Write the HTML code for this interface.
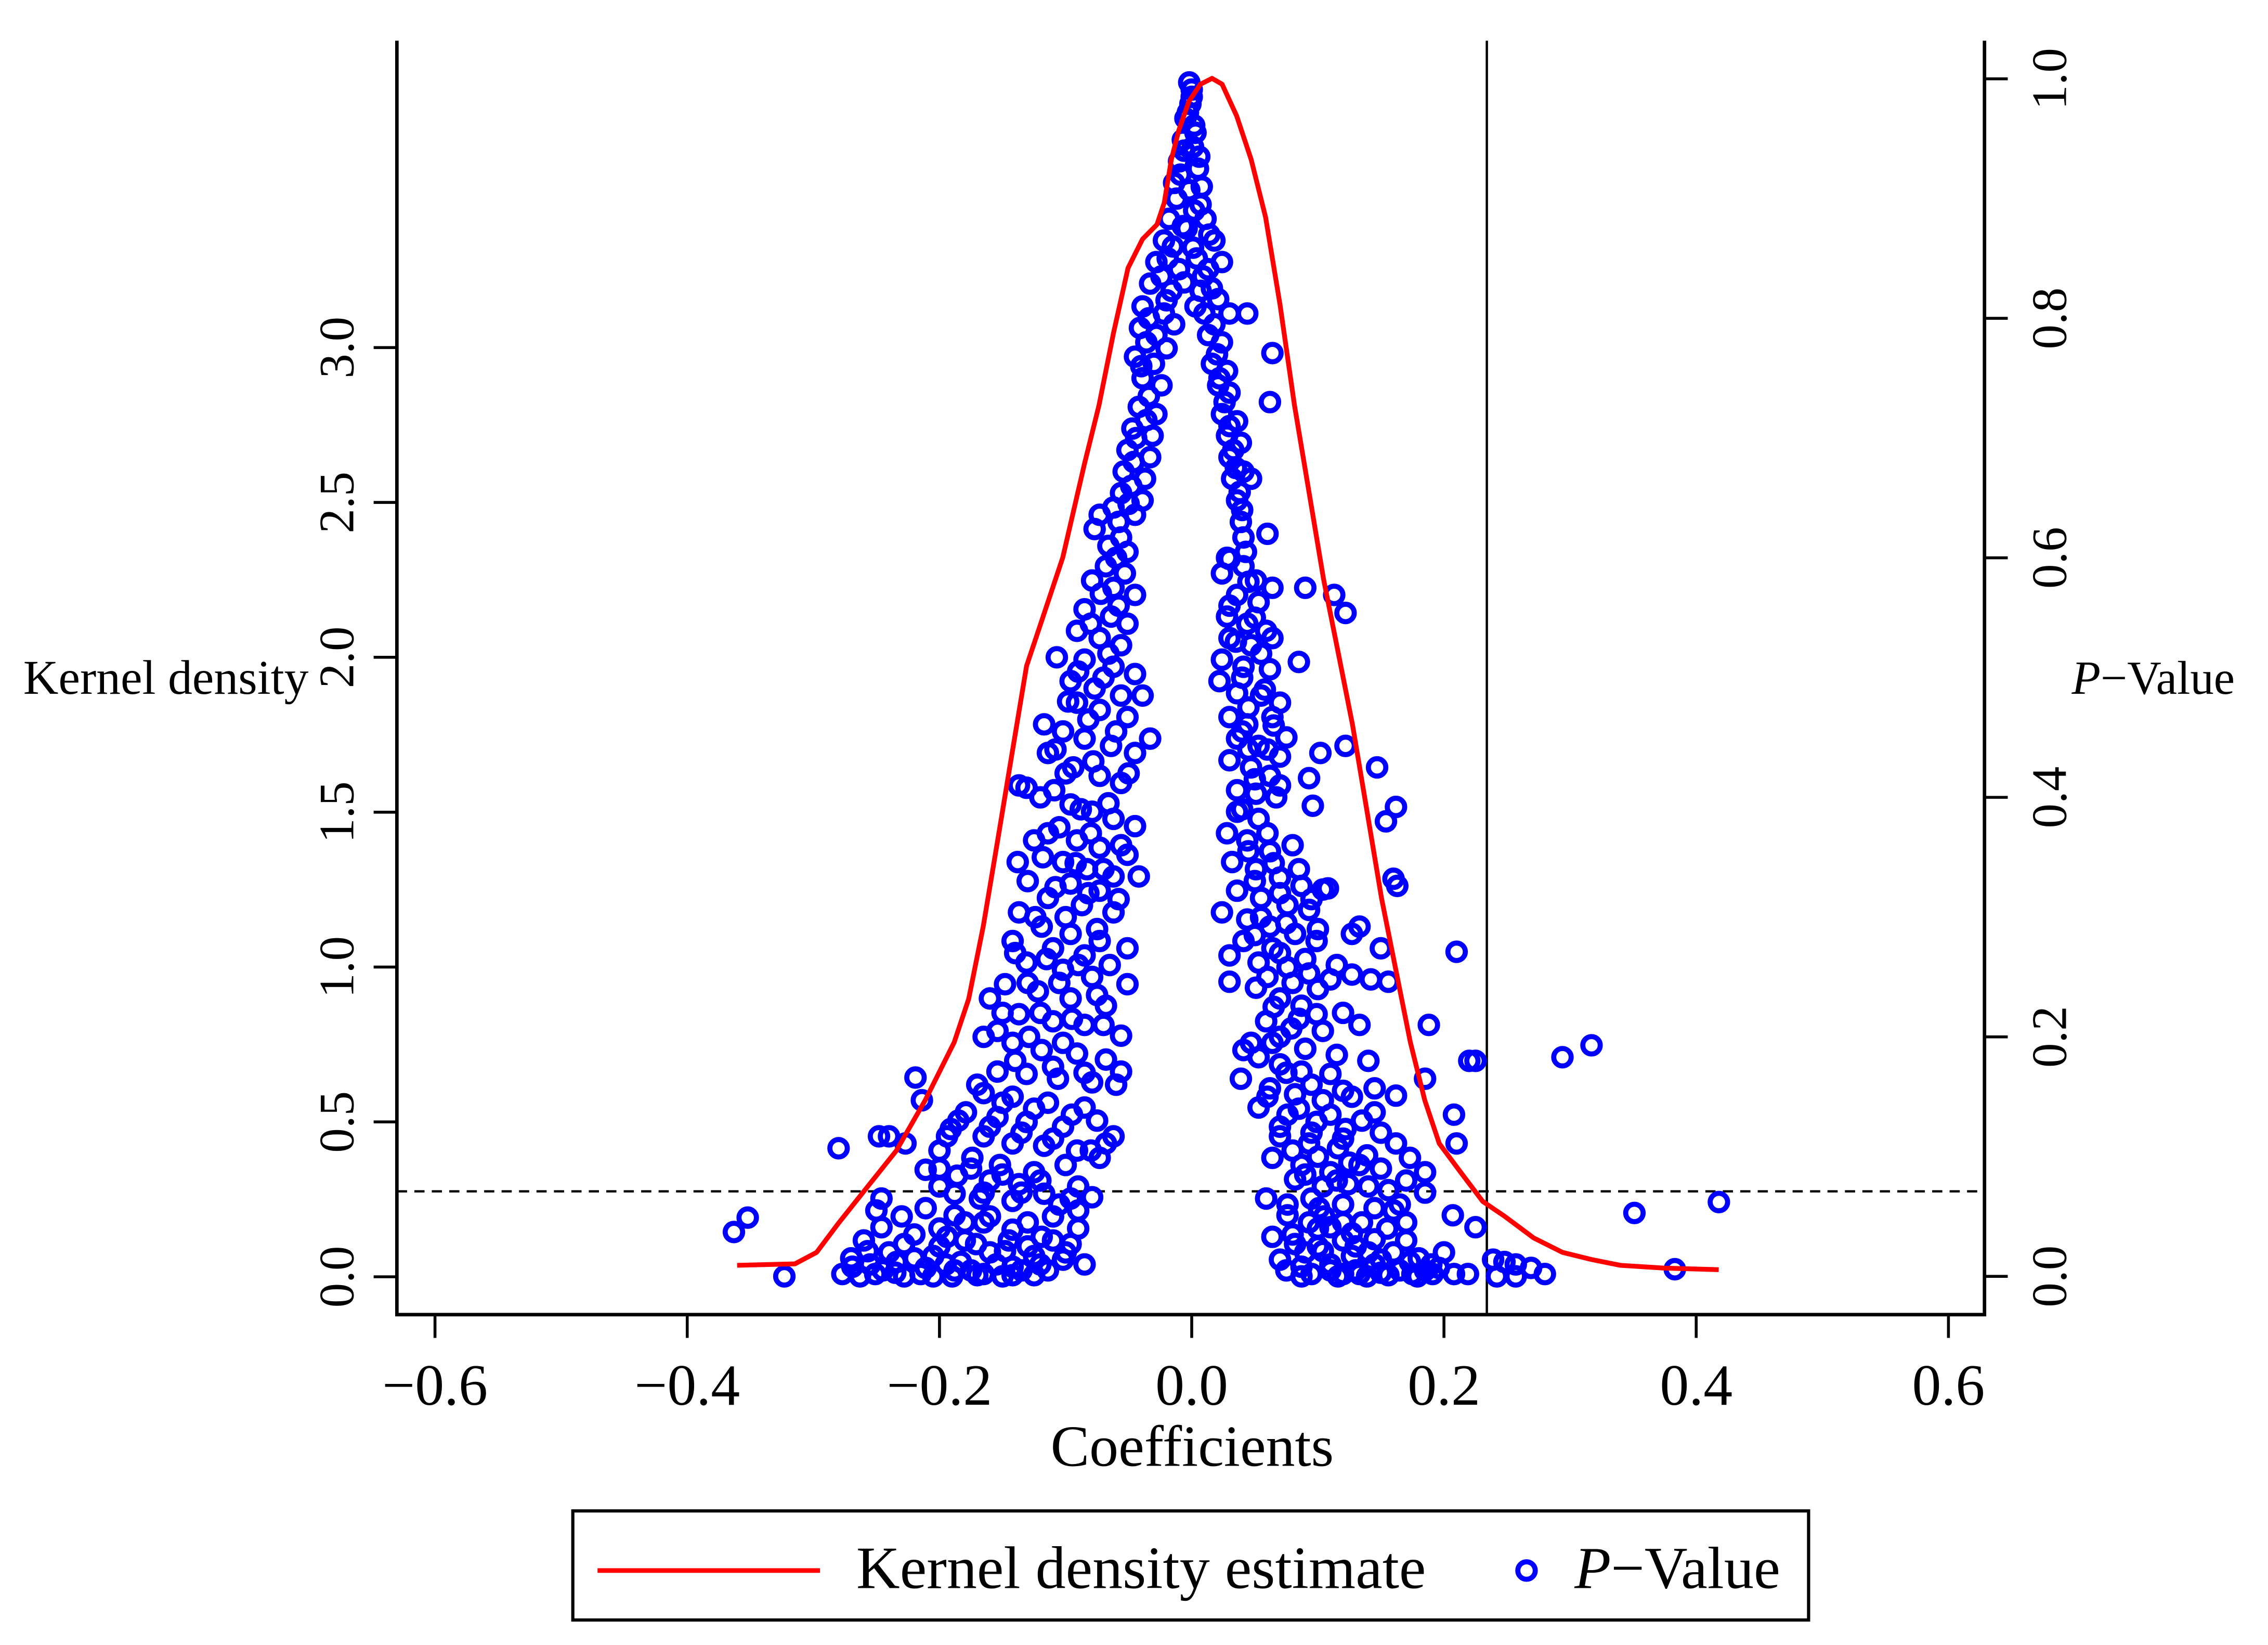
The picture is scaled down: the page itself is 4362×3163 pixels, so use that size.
<!DOCTYPE html>
<html>
<head>
<meta charset="utf-8">
<style>
  html, body { margin: 0; padding: 0; background: #ffffff; }
  #chart { display: block; }
  text { font-family: "Liberation Serif", "DejaVu Serif", serif; fill: #000; }
</style>
</head>
<body>
<svg id="chart" width="4362" height="3163" viewBox="0 0 1560 1131.2" xmlns="http://www.w3.org/2000/svg">
  <rect x="0" y="0" width="1560" height="1131.2" fill="#ffffff"/>
  <g id="plot"></g>
  <g id="axes"></g>
  <text x="16" y="477" font-size="33.5">Kernel density</text>
  <text x="1425" y="477" font-size="32.5"><tspan font-style="italic">P</tspan>−Value</text>
  <text x="820" y="1008" font-size="40" text-anchor="middle">Coefficients</text>
  <g>
    <rect x="394" y="1039" width="850" height="75" fill="#fff" stroke="#000" stroke-width="2.2"/>
    <line x1="411" y1="1080" x2="564" y2="1080" stroke="#ff0000" stroke-width="3.2"/>
    <text x="589" y="1092" font-size="41.5">Kernel density estimate</text>
    <circle cx="1050" cy="1080" r="6" fill="none" stroke="#0000ff" stroke-width="3.5"/>
    <text x="1083" y="1092" font-size="41"><tspan font-style="italic">P</tspan>−Value</text>
  </g>
</svg>
<script>
// ---- data ----
const xTicks = [-0.6, -0.4, -0.2, 0.0, 0.2, 0.4, 0.6];
const xTickLabels = ["−0.6", "−0.4", "−0.2", "0.0", "0.2", "0.4", "0.6"];
const densityTicks = [0.0, 0.5, 1.0, 1.5, 2.0, 2.5, 3.0];
const densityTickLabels = ["0.0", "0.5", "1.0", "1.5", "2.0", "2.5", "3.0"];
const pTicks = [0.0, 0.2, 0.4, 0.6, 0.8, 1.0];
const pTickLabels = ["0.0", "0.2", "0.4", "0.6", "0.8", "1.0"];
const thresholdCoef = 0.234;
const thresholdP = 0.071;

const kdeCoef = [-0.3605,-0.3146,-0.2974,-0.2801,-0.2572,-0.2342,-0.2113,-0.1883,-0.1768,-0.1653,-0.1538,-0.1424,-0.1309,-0.1194,-0.1022,-0.0850,-0.0735,-0.0620,-0.0505,-0.0390,-0.0276,-0.0218,-0.0161,-0.0103,-0.0023,0.0069,0.0161,0.0241,0.0356,0.0471,0.0586,0.0700,0.0815,0.0930,0.1045,0.1160,0.1274,0.1389,0.1504,0.1619,0.1734,0.1848,0.1963,0.2135,0.2308,0.2480,0.2710,0.2939,0.3169,0.3398,0.3743,0.4179];
const kdeDensity = [0.037,0.042,0.079,0.173,0.290,0.407,0.570,0.757,0.897,1.131,1.411,1.692,1.972,2.112,2.322,2.626,2.813,3.047,3.257,3.350,3.397,3.467,3.607,3.701,3.794,3.850,3.869,3.850,3.748,3.607,3.421,3.140,2.813,2.533,2.252,2.019,1.785,1.505,1.224,0.991,0.757,0.570,0.430,0.336,0.243,0.196,0.126,0.079,0.056,0.037,0.028,0.023];

const pvalPoints = [
[-0.002,0.997],[0,0.991],[-0.001,0.979],[-0.005,0.967],[0.002,0.961],[-0.007,0.949],[0.001,0.943],[-0.010,0.931],[0.005,0.925],[-0.014,0.913],[-0.002,0.907],[0.007,0.895],[-0.018,0.883],[-0.007,0.877],[0.011,0.883],[-0.022,0.865],[0.001,0.859],[0.018,0.865],[-0.028,0.847],[-0.010,0.841],[0.013,0.841],[0.024,0.847],[-0.033,0.829],[-0.016,0.823],[0.007,0.823],[0.021,0.816],[-0.039,0.810],[-0.022,0.804],[0.010,0.804],[0.030,0.804],[0.044,0.804],[-0.041,0.792],[-0.028,0.786],[0.013,0.786],[0.024,0.780],[0.064,0.771],[-0.045,0.768],[-0.030,0.762],[0.016,0.762],[0.028,0.756],[-0.039,0.750],[-0.024,0.744],[0.021,0.744],[0.030,0.738],[0.062,0.730],[-0.042,0.726],[-0.028,0.720],[0.024,0.720],[0.036,0.714],[-0.047,0.708],[-0.031,0.702],[0.028,0.702],[0.039,0.696],[-0.051,0.690],[-0.033,0.684],[0.030,0.684],[0.041,0.672],[-0.054,0.672],[-0.037,0.666],[0.032,0.666],[0.047,0.666],[-0.056,0.654],[-0.039,0.648],[0.036,0.648],[-0.062,0.642],[-0.073,0.636],[-0.045,0.636],[0.039,0.630],[-0.077,0.624],[-0.056,0.617],[0.041,0.617],[0.060,0.620],[-0.051,0.605],
[-0.068,0.593],[-0.053,0.587],[-0.079,0.581],[-0.062,0.575],[-0.045,0.569],[-0.085,0.557],[-0.064,0.551],[-0.051,0.545],[-0.091,0.539],[-0.073,0.533],[-0.056,0.527],[-0.107,0.517],[-0.085,0.515],[-0.062,0.509],[-0.045,0.503],[-0.096,0.497],[-0.077,0.491],[-0.056,0.485],[-0.117,0.461],[-0.091,0.479],[-0.073,0.473],[-0.051,0.467],[-0.102,0.455],[-0.085,0.449],[-0.064,0.443],[-0.045,0.437],[-0.114,0.437],[-0.094,0.425],[-0.073,0.418],[-0.109,0.406],[-0.137,0.410],[-0.131,0.408],[-0.056,0.412],[-0.033,0.449],[-0.039,0.485],
[0.030,0.599],[0.041,0.593],[0.024,0.587],[0.051,0.581],[0.064,0.575],[0.036,0.569],[0.053,0.563],[0.090,0.575],[0.113,0.569],[0.122,0.554],[0.028,0.551],[0.044,0.545],[0.059,0.539],[0.030,0.533],[0.047,0.527],[0.064,0.533],[0.024,0.515],[0.041,0.509],[0.062,0.507],[0.085,0.513],[0.022,0.497],[0.036,0.487],[0.055,0.485],[0.070,0.479],[0.030,0.467],[0.044,0.461],[0.064,0.467],[0.036,0.449],[0.053,0.443],[0.070,0.434],[0.102,0.437],[0.122,0.443],[0.030,0.431],[0.047,0.425],[0.062,0.418],[0.093,0.416],[0.147,0.425],[0.036,0.406],[0.051,0.403],[0.067,0.400],[0.096,0.393],[0.162,0.392],[0.154,0.380],
[-0.096,0.394],[-0.079,0.388],[-0.062,0.382],[-0.045,0.376],[-0.114,0.370],[-0.091,0.364],[-0.073,0.358],[-0.051,0.352],[-0.102,0.346],[-0.083,0.340],[-0.062,0.334],[-0.042,0.334],[-0.125,0.364],[-0.138,0.346],[-0.096,0.328],[-0.073,0.322],[-0.114,0.316],[-0.087,0.310],[-0.062,0.304],[-0.137,0.304],[-0.119,0.292],[-0.096,0.286],[-0.073,0.280],[-0.051,0.274],[-0.142,0.280],[-0.110,0.274],[-0.085,0.268],[-0.131,0.262],[-0.102,0.256],[-0.079,0.250],[-0.051,0.244],[-0.148,0.244],[-0.122,0.238],[-0.096,0.232],[-0.068,0.226],[-0.160,0.232],[-0.137,0.219],[-0.110,0.213],[-0.085,0.210],[-0.056,0.201],[-0.154,0.205],[-0.129,0.200],[-0.102,0.195],
[0.036,0.388],[0.053,0.382],[0.028,0.370],[0.044,0.364],[0.062,0.355],[0.032,0.346],[0.051,0.340],[0.070,0.333],[0.087,0.326],[0.104,0.323],[0.160,0.332],[0.163,0.326],[0.036,0.322],[0.055,0.316],[0.076,0.310],[0.093,0.306],[0.108,0.324],[0.024,0.304],[0.044,0.298],[0.062,0.292],[0.082,0.286],[0.041,0.280],[0.064,0.274],[0.099,0.280],[0.127,0.286],[0.133,0.292],[0.030,0.268],[0.053,0.262],[0.076,0.258],[0.093,0.253],[0.150,0.274],[0.030,0.246],[0.051,0.241],[0.070,0.232],[0.087,0.226],[0.110,0.248],[0.127,0.252],[0.142,0.248],[0.156,0.246],[0.059,0.213],[0.079,0.207],[0.104,0.205],[0.041,0.189],[0.064,0.195],[0.133,0.210],[0.099,0.219],[0.188,0.210],[0.210,0.271],
[-0.142,0.195],[-0.119,0.189],[-0.091,0.186],[-0.068,0.181],[-0.154,0.171],[-0.131,0.169],[-0.106,0.165],[-0.079,0.162],[-0.056,0.171],[-0.219,0.166],[-0.165,0.153],[-0.142,0.150],[-0.114,0.145],[-0.085,0.141],[-0.179,0.137],[-0.154,0.133],[-0.131,0.129],[-0.102,0.125],[-0.191,0.123],[-0.165,0.117],[-0.142,0.111],[-0.117,0.109],[-0.091,0.105],[-0.068,0.111],[-0.062,0.117],[-0.200,0.105],[-0.174,0.099],[-0.152,0.093],[-0.125,0.087],[-0.100,0.093],[-0.073,0.099],[-0.211,0.089],[-0.186,0.084],[-0.160,0.080],[-0.137,0.077],[-0.214,0.147],[-0.240,0.117],[-0.227,0.111],[-0.280,0.107],[-0.248,0.117],[-0.194,0.117],[-0.188,0.069],[-0.168,0.065],[-0.142,0.063],[-0.117,0.069],[-0.096,0.065],[-0.079,0.066],
[0.053,0.183],[0.070,0.177],[0.087,0.171],[0.110,0.169],[0.039,0.165],[0.062,0.157],[0.082,0.152],[0.104,0.147],[0.127,0.150],[0.145,0.157],[0.162,0.151],[0.053,0.141],[0.076,0.135],[0.099,0.129],[0.122,0.123],[0.145,0.137],[0.070,0.117],[0.093,0.111],[0.116,0.107],[0.139,0.101],[0.162,0.111],[0.064,0.099],[0.087,0.093],[0.110,0.087],[0.133,0.093],[0.173,0.099],[0.185,0.087],[0.082,0.081],[0.104,0.075],[0.124,0.077],[0.156,0.072],[0.210,0.111],[0.185,0.165],[0.220,0.180],[0.208,0.135],[0.047,0.195],[0.059,0.065],[0.076,0.060],
[-0.211,0.057],[-0.188,0.051],[-0.165,0.045],[-0.142,0.039],[-0.119,0.033],[-0.096,0.027],[-0.194,0.033],[-0.171,0.027],[-0.148,0.021],[-0.125,0.017],[-0.102,0.014],[-0.246,0.041],[-0.228,0.027],[-0.205,0.017],[-0.183,0.012],[-0.257,0.021],[-0.234,0.012],[-0.211,0.007],[-0.188,0.005],[-0.165,0.002],[-0.142,0.001],[-0.269,0.008],[-0.251,0.002],[-0.228,0],[-0.205,0],[-0.142,0.008],[-0.114,0.005],[-0.263,0],[-0.277,0.002],[-0.323,0],[-0.363,0.037],[-0.352,0.049],[-0.246,0.065],
[0.076,0.051],[0.093,0.045],[0.110,0.041],[0.127,0.036],[0.145,0.031],[0.064,0.033],[0.082,0.027],[0.104,0.021],[0.127,0.017],[0.150,0.014],[0.173,0.012],[0.070,0.014],[0.087,0.008],[0.110,0.005],[0.133,0.002],[0.156,0.001],[0.179,0],[0.196,0.007],[0.185,0.005],[0.191,0.002],[0.208,0.002],[0.087,0],[0.116,0],[0.139,0],[0.219,0.002],[0.239,0.014],[0.248,0.012],[0.257,0.010],[0.269,0.007],[0.280,0.002],[0.242,0],[0.257,0],[0.225,0.041],[0.207,0.051],[0.101,0.057],[0.145,0.057],
[0.294,0.183],[0.317,0.193],[0.351,0.053],[0.418,0.062],[0.383,0.006],[0.225,0.180],
[0,0.985],[-0.003,0.972],[0.003,0.955],[-0.006,0.94],[0.006,0.935],[-0.009,0.92],[0.008,0.91],[-0.012,0.9],[0.002,0.89],[-0.004,0.875],[0.014,0.87],[-0.015,0.86],[0.004,0.85],[-0.019,0.85],[0.009,0.835],[-0.024,0.835],[-0.006,0.83],[0.016,0.825],[-0.02,0.815],[0.003,0.81],[-0.034,0.8],[0.018,0.795],[-0.014,0.795],[-0.036,0.78],[0.02,0.77],[-0.02,0.775],[-0.04,0.76],[0.022,0.75],[-0.034,0.735],[0.026,0.73],[-0.036,0.715],[0.03,0.71],[-0.044,0.7],[0.033,0.69],[-0.046,0.68],[0.035,0.675],[-0.048,0.66],[0.038,0.655],[-0.05,0.645],[0.04,0.64],[-0.058,0.63],[-0.066,0.61],[0.043,0.605],[-0.06,0.6],
[-0.072,0.57],[-0.058,0.56],[-0.08,0.545],[-0.066,0.52],[-0.09,0.505],[-0.07,0.5],[-0.098,0.48],[-0.082,0.465],[-0.06,0.455],[-0.108,0.44],[-0.078,0.43],[-0.1,0.42],[-0.05,0.42],[-0.12,0.4],[-0.088,0.39],[-0.066,0.395],[-0.105,0.375],[-0.08,0.37],[-0.056,0.36],[-0.118,0.35],[-0.092,0.345],[-0.07,0.34],[-0.13,0.33],[-0.108,0.325],[-0.082,0.32],[-0.058,0.315],[-0.124,0.3],[-0.1,0.3],[-0.075,0.29],[-0.14,0.27],[-0.115,0.265],[-0.09,0.26],[-0.065,0.26],[-0.13,0.245],[-0.105,0.245],[-0.075,0.235],[-0.15,0.22],[-0.12,0.22],[-0.095,0.215],[-0.07,0.21],[-0.165,0.2],[-0.14,0.18],[-0.11,0.175],[-0.085,0.17],[-0.06,0.16],[-0.17,0.16],[-0.15,0.145],[-0.125,0.14],[-0.095,0.135],[-0.075,0.13],[-0.185,0.13],[-0.16,0.125],[-0.135,0.12],[-0.11,0.115],[-0.08,0.105],[-0.2,0.09],[-0.175,0.09],[-0.15,0.085],[-0.12,0.08],[-0.09,0.075],[-0.2,0.075],[-0.165,0.07],[-0.135,0.07],[-0.105,0.06],
[-0.255,0.01],[-0.245,0.005],[-0.24,0.02],[-0.235,0.003],[-0.22,0.015],[-0.215,0.002],[-0.2,0.025],[-0.195,0.01],[-0.18,0.03],[-0.175,0.005],[-0.16,0.02],[-0.155,0.01],[-0.145,0.03],[-0.135,0.005],[-0.13,0.025],[-0.12,0.01],[-0.11,0.03],[-0.1,0.02],[-0.09,0.04],[-0.085,0.01],[-0.18,0.045],[-0.16,0.05],[-0.13,0.045],[-0.11,0.05],[-0.09,0.055],[-0.2,0.04],[-0.22,0.035],[-0.23,0.05],[-0.26,0.03],[-0.27,0.015],[-0.25,0.055],[-0.17,0.001],[-0.15,0],[-0.125,0.001],[-0.19,0],
[0.028,0.6],[0.045,0.58],[0.03,0.56],[0.05,0.55],[0.035,0.53],[0.055,0.52],[0.04,0.5],[0.058,0.49],[0.045,0.475],[0.065,0.46],[0.04,0.455],[0.06,0.44],[0.075,0.45],[0.045,0.44],[0.05,0.415],[0.07,0.41],[0.04,0.39],[0.06,0.37],[0.08,0.36],[0.045,0.355],[0.065,0.345],[0.085,0.34],[0.05,0.33],[0.07,0.32],[0.095,0.315],[0.055,0.3],[0.075,0.295],[0.1,0.29],[0.05,0.285],[0.07,0.27],[0.09,0.265],[0.115,0.26],[0.06,0.25],[0.08,0.245],[0.1,0.24],[0.065,0.225],[0.085,0.215],[0.12,0.22],[0.07,0.2],[0.09,0.19],[0.115,0.185],[0.14,0.18],[0.075,0.17],[0.095,0.16],[0.12,0.155],[0.06,0.15],[0.085,0.14],[0.11,0.135],[0.135,0.13],[0.07,0.125],[0.095,0.12],[0.12,0.115],[0.15,0.12],[0.08,0.105],[0.1,0.1],[0.125,0.095],[0.15,0.09],[0.09,0.085],[0.115,0.08],[0.14,0.075],[0.17,0.08],[0.095,0.065],[0.12,0.06],[0.165,0.06],[0.185,0.07],
[0.08,0.035],[0.09,0.02],[0.1,0.04],[0.11,0.01],[0.12,0.03],[0.13,0.005],[0.135,0.045],[0.14,0.02],[0.15,0.003],[0.155,0.04],[0.16,0.02],[0.165,0.005],[0.17,0.03],[0.175,0.002],[0.18,0.015],[0.19,0.01],[0.2,0.02],[0.105,0.05],[0.12,0.045],[0.095,0.002],[0.12,0.002],[0.145,0.01],[0.1,0.025],[0.13,0.025],[0.17,0.045],[0.075,0.005],[0.16,0.055]
];

// ---- layout ----
const box = { left: 273, right: 1365, top: 28, bottom: 904 };
function xScale(v) { return 819.7 + v * 867.5; }
function yDensity(d) { return 878 - d * 213; }
function yP(p) { return 877.7 - p * 823.5; }

const NS = "http://www.w3.org/2000/svg";
function mk(tag, attrs, parent) {
  const el = document.createElementNS(NS, tag);
  for (const k in attrs) el.setAttribute(k, attrs[k]);
  parent.appendChild(el);
  return el;
}
const plot = document.getElementById("plot");
const axes = document.getElementById("axes");

// reference lines
let el = mk("line", { x1: box.left, x2: box.right, y1: yP(thresholdP), y2: yP(thresholdP), stroke: "#000", "stroke-width": 1.6, "stroke-dasharray": "7,5" }, plot);


el = mk("line", { x1: xScale(thresholdCoef), x2: xScale(thresholdCoef), y1: box.top, y2: box.bottom, stroke: "#000", "stroke-width": 1.6 }, plot);



// points
const ptsG = mk("g", {}, plot);


pvalPoints.forEach(function (pt) {
  const c = mk("circle", { cx: xScale(pt[0]).toFixed(1), cy: yP(pt[1]).toFixed(1), r: 6, fill: "none", stroke: "#0000ff", "stroke-width": 3.5 }, ptsG);
  
  
});

// kde line
let d = "";
kdeCoef.forEach(function (c, i) {
  d += (i ? "L" : "M") + xScale(c).toFixed(1) + "," + yDensity(kdeDensity[i]).toFixed(1);
});
el = mk("path", { d: d, fill: "none", stroke: "#ff0000", "stroke-width": 3.3, "stroke-linejoin": "round" }, plot);



// axis lines
el = mk("polyline", { points: box.left + "," + box.top + " " + box.left + "," + box.bottom + " " + box.right + "," + box.bottom + " " + box.right + "," + box.top, fill: "none", stroke: "#000", "stroke-width": 2.4 }, axes);



// x ticks
xTicks.forEach(function (v, i) {
  const x = xScale(v);
  const t = mk("line", { x1: x, x2: x, y1: box.bottom, y2: 920, stroke: "#000", "stroke-width": 2 }, axes);
  
  
  const lb = mk("text", { x: x, y: 966, "font-size": 40, "text-anchor": "middle" }, axes);
  lb.textContent = xTickLabels[i];
  
  
});

// left ticks
densityTicks.forEach(function (v, i) {
  const y = yDensity(v);
  const t = mk("line", { x1: 257, x2: box.left, y1: y, y2: y, stroke: "#000", "stroke-width": 2 }, axes);
  
  
  const lb = mk("text", { x: 0, y: 0, "font-size": 34, "text-anchor": "middle", transform: "translate(243," + y + ") rotate(-90)" }, axes);
  lb.textContent = densityTickLabels[i];
  
  
});

// right ticks
pTicks.forEach(function (v, i) {
  const y = yP(v);
  const t = mk("line", { x1: box.right, x2: 1381, y1: y, y2: y, stroke: "#000", "stroke-width": 2 }, axes);
  
  
  const lb = mk("text", { x: 0, y: 0, "font-size": 34, "text-anchor": "middle", transform: "translate(1421," + y + ") rotate(-90)" }, axes);
  lb.textContent = pTickLabels[i];
  
  
});
</script>
</body>
</html>
